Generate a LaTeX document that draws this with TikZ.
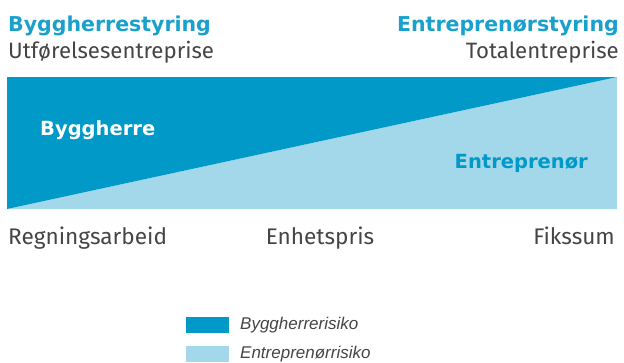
\documentclass[tikz,border=0pt]{standalone}
\usepackage{fontspec}
\setmainfont{Fira Sans}
\newfontfamily\legendfont{Liberation Sans}
\newfontfamily\headfont{DejaVu Sans}
\definecolor{bhblue}{HTML}{0099C8}
\definecolor{enblue}{HTML}{A3D8EA}
\definecolor{titleblue}{HTML}{1AA0CC}
\definecolor{labelgrey}{HTML}{454545}
\begin{document}
\begin{tikzpicture}[x=1pt,y=-1pt,
  title/.style={font=\headfont\bfseries\fontsize{20.5}{22}\selectfont, text=titleblue, inner sep=0pt},
  sub/.style={font=\fontsize{22.2}{24}\selectfont, text=labelgrey, inner sep=0pt},
  scale label/.style={font=\fontsize{22.6}{24}\selectfont, text=labelgrey, inner sep=0pt},
  area label/.style={font=\headfont\bfseries\fontsize{19.5}{21}\selectfont, inner sep=0pt},
  swatch/.style={minimum width=43pt, minimum height=16pt, inner sep=0pt},
  legend text/.style={font=\legendfont\itshape\fontsize{17}{19}\selectfont, text=labelgrey, inner sep=0pt, anchor=west}]
\useasboundingbox (0,0) rectangle (624,362);
% risk areas
\coordinate (bl) at (7,209);
\coordinate (tl) at (7,77);
\coordinate (tr) at (617,77);
\coordinate (br) at (617,209);
\fill[enblue] (bl) -- (tr) -- (br) -- cycle;
\fill[bhblue] (bl) -- (tl) -- (tr) -- cycle;
% headings
\node[title, anchor=base west] (bh) at (8,31) {Byggherrestyring};
\node[sub, anchor=base west] (ut) at (8,58) {Utførelsesentreprise};
\node[title, anchor=base east] (en) at (619,31) {Entreprenørstyring};
\node[sub, anchor=base east] (to) at (619,58) {Totalentreprise};
% area labels
\node[area label, text=white, anchor=base west] (byg) at (40,135) {Byggherre};
\node[area label, text=bhblue, anchor=base east] (ent) at (588,168) {Entreprenør};
% contract forms
\node[scale label, anchor=base west] (reg) at (8,244) {Regningsarbeid};
\node[scale label, anchor=base] (enh) at (320,244) {Enhetspris};
\node[scale label, anchor=base east] (fik) at (615,244) {Fikssum};
% legend
\node[swatch, fill=bhblue, anchor=west] (s1) at (186,325) {};
\node[legend text] (l1) at (240,325) {Byggherrerisiko};
\node[swatch, fill=enblue, anchor=west] (s2) at (186,354) {};
\node[legend text] (l2) at (240,354) {Entreprenørrisiko};
\end{tikzpicture}
\end{document}
